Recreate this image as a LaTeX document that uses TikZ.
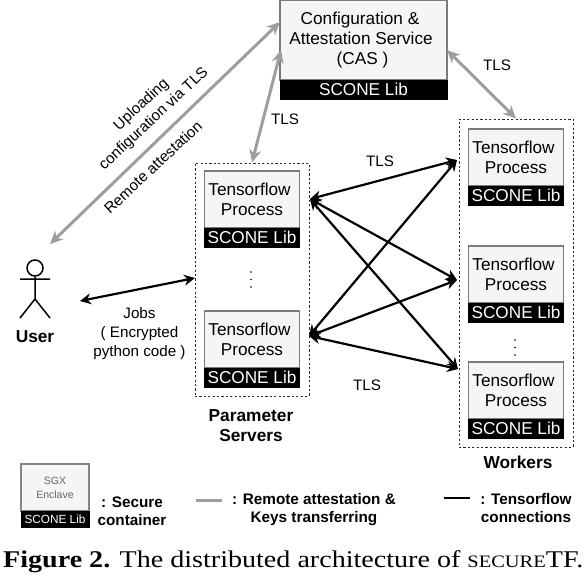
\documentclass[tikz,border=0pt]{standalone}
\usepackage{fontspec}
\setmainfont{Liberation Sans}
\newfontfamily\capfont[FakeStretch=1.17]{Liberation Serif}
\usetikzlibrary{arrows.meta}
\newcommand{\fs}[1]{\fontsize{#1}{#1}\selectfont}
\tikzset{
  x=1pt,y=-1pt,
  greybox/.style={draw=black!52,line width=1.2pt,fill=black!4,inner sep=0pt,align=center,font=\fontsize{17.2}{20}\selectfont},
  libbar/.style={fill=black,draw=black,line width=0.4pt,text=white,inner sep=0pt,font=\fs{17.2}},
  dashbox/.style={draw=black!85,line width=1pt,dash pattern=on 2.2pt off 2.2pt,inner sep=0pt},
  lbl/.style={font=\fontsize{15.2}{19}\selectfont,align=center,inner sep=0pt},
  bold/.style={font=\fontsize{17.3}{20}\selectfont\bfseries,align=center,inner sep=0pt},
  legendtext/.style={font=\fontsize{15.3}{18}\selectfont\bfseries,align=center,inner sep=0pt},
  grayline/.style={draw=black!38,line width=3pt},
  blackline/.style={draw=black,line width=2.2pt},
  grayarrow/.style={grayline,{Stealth[length=13pt,width=12pt]}-{Stealth[length=13pt,width=12pt]}},
  blackarrow/.style={blackline,{Stealth[length=11pt,width=11pt]}-{Stealth[length=11pt,width=11pt]}},
  stick/.style={draw=black,line width=1.5pt},
}
\newcommand{\tfbox}[2]{% name, top y; x from macro
  \node[greybox,minimum width=95pt,minimum height=57pt] (#1) at (\bx,#2+28.5) {Tensorflow\kern5pt\\Process};
  \node[libbar,minimum width=95pt,minimum height=19pt] (#1lib) at (\bx,#2+66.5) {SCONE Lib};
}
\begin{document}
\begin{tikzpicture}
\useasboundingbox (0,0) rectangle (588,576);
% dashed groups
\node[dashbox,minimum width=114pt,minimum height=233pt] (ps) at (252,279.5) {};
\node[dashbox,minimum width=114pt,minimum height=328pt] (wk) at (516,283) {};
% CAS
\node[greybox,minimum width=167pt,minimum height=80pt] (cas) at (363.5,40) {Configuration \&\kern7pt\\Attestation Service\kern5pt\\(CAS )\kern2pt};
\node[libbar,minimum width=167pt,minimum height=19pt] (caslib) at (363.5,89.5) {SCONE Lib};
% process boxes
\def\bx{252}
\tfbox{pa}{171}
\tfbox{pb}{311}
\def\bx{516}
\tfbox{wa}{129}
\tfbox{wb}{246}
\tfbox{wc}{362}
% vertical dots
\foreach \yy in {272,279.5,287} \fill (251,\yy) circle (0.9pt);
\foreach \yy in {340,347.5,355} \fill (515,\yy) circle (0.9pt);
% user
\node[circle,stick,minimum size=16pt,inner sep=0pt] (head) at (35,268) {};
\coordinate (hip) at (35,299);
\coordinate (arml) at (20,279);
\coordinate (armr) at (50,279);
\coordinate (legl) at (20,318);
\coordinate (legr) at (50,318);
\draw[stick] (head.south) -- (hip) (arml) -- (armr) (legl) -- (hip) -- (legr);
\node[bold] (user) at (35,337) {User};
% anchor points
\coordinate (uTop) at (50,244);
\coordinate (casA) at (280,22);
\coordinate (casB) at (281,50);
\coordinate (casC) at (447,50);
\coordinate (uJob) at (80,301);
\coordinate (psJob) at (195,278);
\coordinate (pP) at (310,199);
\coordinate (qP) at (309,336);
\coordinate (wA) at (457,160);
\coordinate (wB) at (457,280);
\coordinate (wC) at (458,369);
% connectors
\draw[grayarrow] (uTop) -- (casA);
\draw[grayarrow] (ps.north) -- (casB);
\draw[grayarrow] (casC) -- (wk.north);
\draw[blackarrow] (uJob) -- (psJob);
\draw[blackarrow] (pP) -- (wA);
\draw[blackarrow] (pP) -- (wB);
\draw[blackarrow] (pP) -- (wC);
\draw[blackarrow] (qP) -- (wA);
\draw[blackarrow] (qP) -- (wB);
\draw[blackarrow] (qP) -- (wC);
% labels
\node[lbl] (t1) at (285,119) {TLS};
\node[lbl] (t2) at (497,65) {TLS};
\node[lbl] (t3) at (380,161) {TLS};
\node[lbl] (t4) at (367,385) {TLS};
\node[lbl,rotate=43] (up1) at (141.5,105) {Uploading};
\node[lbl,rotate=43] (up2) at (154,119) {configuration via TLS};
\node[lbl,rotate=43] (ra) at (153,167) {Remote attestation};
\node[lbl] (jobs) at (139.5,334) {Jobs\\( Encrypted\\python code )};
\node[bold] (psl) at (251,426) {Parameter\\Servers};
\node[bold] (wkl) at (518,462) {Workers};
% legend
\node[greybox,draw=black!48,minimum width=68pt,minimum height=47pt,font=\fontsize{10.5}{14}\selectfont,text=black!60] (lg) at (55,487.5) {SGX\\Enclave};
\node[libbar,minimum width=68pt,minimum height=16pt,font=\fs{11.8}] (lglib) at (55,519) {SCONE Lib};
\node[legendtext] (l1) at (132,511) {: Secure\\container};
\coordinate (g1) at (196,500);
\coordinate (g2) at (222,500);
\draw[grayline] (g1) -- (g2);
\node[legendtext] (l2) at (314,510) {: Remote attestation \&\\Keys transferring};
\coordinate (b1) at (444,498);
\coordinate (b2) at (470,498);
\draw[blackline] (b1) -- (b2);
\node[legendtext] (l3) at (526,508) {: Tensorflow\\connections};
% caption
\node[anchor=base west,inner sep=0pt,font=\capfont\fontsize{24}{26}\selectfont] (cap) at (3,567) {\textbf{Figure 2.} The distributed architecture of {\fontsize{17.5}{18}\selectfont SECURE}TF.};
\end{tikzpicture}
\end{document}
